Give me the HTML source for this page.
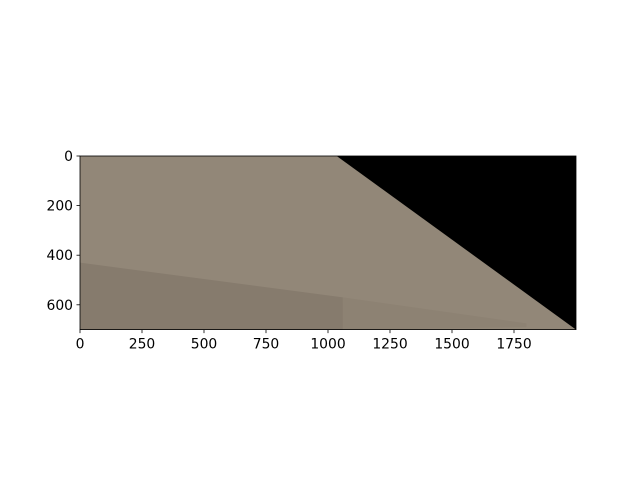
<!DOCTYPE html>
<html><head><meta charset="utf-8"><style>body{margin:0;background:#fff}svg{display:block}text{font-family:"DejaVu Sans","Liberation Sans",sans-serif;font-size:13.9px;fill:#000}</style></head>
<body>
<svg id="c" width="640" height="480"></svg>
<script>
const xTicks=[0,250,500,750,1000,1250,1500,1750];
const yTicks=[0,200,400,600];
const imgW=2000, imgH=700;
const blackStartX=1035;
const darkBandTopY=[430,570];
const darkBandEndX=1060;
const L=80,T=156,S=0.248;
const sx=v=>L+v*S, sy=v=>T+v*S;
const svg=document.getElementById('c');const NS='http://www.w3.org/2000/svg';
function mk(t,a,p){const e=document.createElementNS(NS,t);for(const k in a)e.setAttribute(k,a[k]);(p||svg).appendChild(e);return e;}
const g=mk('g',{});


mk('rect',{x:sx(0),y:sy(0),width:imgW*S,height:imgH*S,fill:'#928778'},g);
mk('polygon',{points:`${sx(0)},${sy(darkBandTopY[0])} ${sx(darkBandEndX)},${sy(darkBandTopY[1])} ${sx(darkBandEndX)},${sy(imgH)} ${sx(0)},${sy(imgH)}`,fill:'#867b6d'},g);
mk('polygon',{points:`${sx(darkBandEndX)},${sy(darkBandTopY[1])} ${sx(1800)},${sy(675)} ${sx(1800)},${sy(690)} ${sx(darkBandEndX)},${sy(imgH)}`,fill:'#8d8273'},g);
mk('polygon',{points:`${sx(blackStartX)},${sy(0)} ${sx(imgW)},${sy(0)} ${sx(imgW)},${sy(imgH)}`,fill:'#000'},g);
const fr=mk('rect',{x:sx(0),y:sy(0),width:imgW*S,height:imgH*S,fill:'none',stroke:'#000','stroke-width':0.8});


xTicks.forEach(v=>{mk('line',{x1:sx(v),x2:sx(v),y1:sy(imgH),y2:sy(imgH)+3.5,stroke:'#000','stroke-width':0.8});
const t=mk('text',{x:sx(v),y:sy(imgH)+19,'text-anchor':'middle'});t.textContent=v;

});
yTicks.forEach(v=>{mk('line',{x1:sx(0)-3.5,x2:sx(0),y1:sy(v),y2:sy(v),stroke:'#000','stroke-width':0.8});
const t=mk('text',{x:sx(0)-7,y:sy(v)+5,'text-anchor':'end'});t.textContent=v;

});
</script>
</body></html>
